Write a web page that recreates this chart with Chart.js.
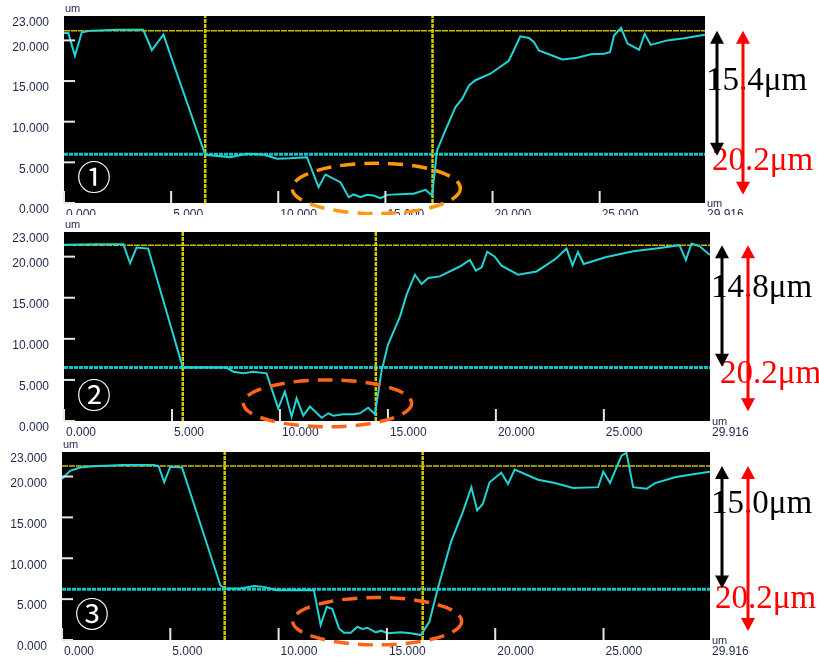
<!DOCTYPE html>
<html>
<head>
<meta charset="utf-8">
<script src="https://cdn.jsdelivr.net/npm/chart.js@4.4.1/dist/chart.umd.min.js"></script>
<style>
  body { margin: 0; background: #fff; width: 819px; height: 662px; overflow: hidden; position: relative; }
  canvas { position: absolute; left: 0; }
</style>
</head>
<body>
<canvas id="c1" width="819" height="215" style="top:0"></canvas>
<canvas id="c2" width="819" height="225" style="top:215px"></canvas>
<canvas id="c3" width="819" height="226" style="top:436px"></canvas>
<script>
// profile traces (um)
const x1 = [0, 0.2, 0.51, 0.83, 1.29, 2.5, 3.7, 4.1, 4.64, 6.59, 7.76, 8.54, 9.3, 9.94, 10.56, 11.34, 11.88, 12.2, 12.9, 13.29, 13.52, 13.83, 14.14, 14.45, 14.77, 15.08, 16.17, 16.32, 16.87, 17.18, 17.41, 17.73, 18.27, 18.58, 18.9, 19.2, 19.9, 20.76, 21.3, 21.7, 21.93, 22.16, 22.63, 23.26, 23.96, 24.58, 25.2, 25.48, 25.67, 26.0, 26.3, 26.84, 27.1, 27.38, 28.16, 28.94, 29.916];
const y1 = [20.9, 20.9, 18.1, 21.0, 21.2, 21.3, 21.3, 18.8, 20.7, 5.93, 5.63, 6.05, 5.97, 5.44, 5.5, 5.63, 1.94, 3.5, 2.56, 0.71, 1.05, 0.71, 1.0, 0.92, 0.59, 1.0, 1.13, 1.13, 1.62, 0.92, 6.46, 8.5, 11.8, 12.8, 14.45, 15.1, 15.9, 17.5, 20.5, 20.3, 19.8, 18.76, 18.3, 17.65, 17.86, 18.3, 18.35, 18.55, 20.6, 21.55, 19.6, 18.85, 20.8, 19.45, 20.0, 20.27, 20.7];

const x2 = [0, 1.5, 2.75, 3.06, 3.36, 3.9, 5.5, 7.53, 7.84, 8.3, 8.76, 9.38, 9.92, 10.23, 10.54, 10.77, 11.08, 11.39, 11.93, 12.24, 12.47, 12.93, 13.39, 13.7, 14.09, 14.4, 14.7, 15.0, 15.56, 15.87, 16.25, 16.56, 16.87, 17.4, 18.33, 18.8, 19.07, 19.34, 19.6, 19.95, 20.26, 21.03, 21.88, 22.35, 22.8, 23.27, 23.55, 23.8, 24.07, 25.12, 26.36, 27.6, 28.5, 28.8, 29.06, 29.44, 29.916];
const y2 = [21.46, 21.5, 21.5, 19.2, 21.1, 20.98, 6.5, 6.5, 6.0, 5.8, 6.0, 5.8, 1.55, 3.58, 0.53, 2.76, 0.65, 1.75, 0.4, 0.94, 0.65, 0.82, 0.82, 0.94, 1.62, 0.82, 6.0, 9.27, 12.7, 15.4, 17.8, 16.67, 17.4, 17.6, 18.8, 19.6, 18.3, 18.7, 20.6, 20.0, 18.9, 17.8, 18.2, 19.0, 19.8, 20.98, 18.94, 20.57, 19.1, 19.96, 20.65, 21.06, 21.4, 19.6, 21.6, 21.26, 20.2];

const x3 = [0, 0.37, 0.83, 1.45, 2.8, 4.23, 4.46, 4.72, 5.0, 5.54, 7.31, 7.51, 8.24, 8.86, 9.32, 9.94, 11.63, 11.94, 12.22, 12.48, 12.79, 13.02, 13.33, 13.64, 13.87, 14.1, 14.49, 14.72, 15.03, 15.65, 16.1, 16.57, 16.96, 17.35, 17.96, 18.5, 18.9, 19.17, 19.43, 19.74, 20.28, 20.59, 20.9, 21.98, 22.75, 23.6, 24.75, 24.99, 25.3, 25.83, 26.06, 26.37, 26.99, 27.38, 28.3, 29.2, 29.916];
const y3 = [19.7, 20.7, 21.1, 21.26, 21.4, 21.4, 21.26, 19.3, 21.2, 21.1, 6.7, 6.3, 6.3, 6.6, 6.5, 6.1, 6.1, 1.83, 4.06, 3.78, 1.42, 0.89, 0.89, 1.62, 1.34, 1.5, 0.94, 1.14, 0.82, 0.94, 0.82, 0.6, 2.23, 6.3, 12.0, 15.65, 18.7, 15.85, 16.67, 19.3, 20.45, 19.1, 20.85, 19.6, 19.2, 18.6, 18.7, 20.6, 19.2, 22.56, 22.9, 18.7, 18.5, 19.2, 19.9, 20.3, 20.6];

// cursors and reference levels
const topLevel = [21.2, 21.4, 21.3];
const stepLevel = [6.0, 6.5, 6.2];
const cursorA = [6.59, 5.5, 7.51];
const cursorB = [17.2, 14.44, 16.65];

// marked trench zone (ellipse extent, um)
const zoneX = [[10.65, 18.5], [8.3, 16.1], [10.65, 18.45]];
const zoneY = [[-1.3, 4.9], [-0.7, 5.0], [-0.6, 5.2]];

// measured depths
const stepDepth = [15.4, 14.8, 15.0];
const totalDepth = [20.2, 20.2, 20.2];
const marks = ['①', '②', '③'];

const xTicks = [0, 5, 10, 15, 20, 25, 29.916];
const yTicks = [0, 5, 10, 15, 20, 23];
const tickMarksX = [0, 5, 10, 15, 20, 25];
const tickMarksY = [0, 5, 10, 15, 20];
const xMax = 29.916, yMax = 23;

// layout of each panel inside its canvas
const frames = [
  { left: 64, right: 114, top: 16, axisH: 12 },
  { left: 64, right: 109, top: 17, axisH: 19 },
  { left: 62, right: 109, top: 16, axisH: 22 },
];
const textRow = [74, 65, 61];     // black label baseline below plot top
const redRow = [33, 38, 32];      // red label baseline above plot bottom
const redShift = [7, 10, 5];
const ellColor = ['rgb(255,150,20)', 'rgb(255,100,25)', 'rgb(255,100,25)'];

const labelColor = '#1d264d';
const labelFont = { family: 'Liberation Sans, Arial, sans-serif', size: 12 };

function arrow(ctx, x, ya, yb, color) {
  const h = 13, w = 7;
  ctx.save();
  ctx.strokeStyle = color;
  ctx.fillStyle = color;
  ctx.lineWidth = 3;
  ctx.beginPath();
  ctx.moveTo(x, ya + h - 2);
  ctx.lineTo(x, yb - h + 2);
  ctx.stroke();
  ctx.beginPath();
  ctx.moveTo(x, ya); ctx.lineTo(x - w, ya + h); ctx.lineTo(x + w, ya + h);
  ctx.fill();
  ctx.beginPath();
  ctx.moveTo(x, yb); ctx.lineTo(x - w, yb - h); ctx.lineTo(x + w, yb - h);
  ctx.fill();
  ctx.restore();
}

function noPad(s) {
  s.paddingTop = 0; s.paddingBottom = 0; s.paddingLeft = 0; s.paddingRight = 0;
}

function panelPlugin(i) {
  return {
    id: 'panel' + i,
    beforeDraw(chart) {
      const a = chart.chartArea, ctx = chart.ctx;
      ctx.save();
      ctx.fillStyle = '#000';
      ctx.fillRect(a.left, a.top, a.right - a.left, a.bottom - a.top);
      ctx.restore();
    },
    afterDraw(chart) {
      const a = chart.chartArea, ctx = chart.ctx;
      const xs = chart.scales.x, ys = chart.scales.y;
      ctx.save();
      // white tick marks inside the frame
      ctx.strokeStyle = '#e6e6e6';
      ctx.lineWidth = 2;
      tickMarksY.forEach(v => {
        const py = ys.getPixelForValue(v);
        ctx.beginPath(); ctx.moveTo(a.left, py); ctx.lineTo(a.left + 11, py); ctx.stroke();
      });
      tickMarksX.forEach(v => {
        const px = xs.getPixelForValue(v);
        ctx.beginPath(); ctx.moveTo(px, a.bottom); ctx.lineTo(px, a.bottom - 12); ctx.stroke();
      });
      // unit labels
      ctx.fillStyle = labelColor;
      ctx.font = '11px Liberation Sans, Arial, sans-serif';
      ctx.textAlign = 'left';
      ctx.textBaseline = 'middle';
      ctx.fillText('um', a.left + 1, a.top - 7);
      ctx.fillText('um', a.right + 2, a.bottom + 1);
      // circled panel number
      ctx.fillStyle = '#fff';
      ctx.font = '34px "Noto Sans CJK JP", sans-serif';
      ctx.textAlign = 'center';
      ctx.fillText(marks[i], a.left + 30, a.bottom - 26);
      // dashed ellipse round the trench
      const ex0 = xs.getPixelForValue(zoneX[i][0]), ex1 = xs.getPixelForValue(zoneX[i][1]);
      const ey0 = ys.getPixelForValue(zoneY[i][1]), ey1 = ys.getPixelForValue(zoneY[i][0]);
      ctx.strokeStyle = ellColor[i];
      ctx.lineWidth = 3.5;
      ctx.setLineDash([15, 9]);
      ctx.beginPath();
      ctx.ellipse((ex0 + ex1) / 2, (ey0 + ey1) / 2, (ex1 - ex0) / 2, (ey1 - ey0) / 2, 0, 0, Math.PI * 2);
      ctx.stroke();
      ctx.setLineDash([]);
      // depth labels
      ctx.textAlign = 'left';
      ctx.textBaseline = 'alphabetic';
      ctx.font = '33px "Liberation Serif", "Times New Roman", serif';
      ctx.fillStyle = '#000';
      ctx.fillText(stepDepth[i].toFixed(1) + 'μm', a.right + 1, a.top + textRow[i]);
      ctx.fillStyle = '#ff0000';
      ctx.fillText(totalDepth[i].toFixed(1) + 'μm', a.right + redShift[i], a.bottom - redRow[i]);
      ctx.restore();
      // depth arrows
      const yTop = ys.getPixelForValue(topLevel[i]);
      arrow(ctx, a.right + 12, yTop, ys.getPixelForValue(topLevel[i] - stepDepth[i]), '#000');
      arrow(ctx, a.right + 38, yTop, ys.getPixelForValue(topLevel[i] - totalDepth[i]), '#ff0000');
    }
  };
}

function makePanel(id, i, xs, ys) {
  const f = frames[i];
  const line = (pts, color, width, dash) => ({
    data: pts, borderColor: color, borderWidth: width, borderDash: dash,
    pointRadius: 0, tension: 0, fill: false
  });
  new Chart(document.getElementById(id), {
    type: 'line',
    data: {
      datasets: [
        line(xs.map((x, k) => ({ x: x, y: ys[k] })), 'rgb(35,212,212)', 2, []),
        line([{ x: cursorA[i], y: 0 }, { x: cursorA[i], y: yMax }], 'rgb(212,202,0)', 2.5, [4, 1]),
        line([{ x: cursorB[i], y: 0 }, { x: cursorB[i], y: yMax }], 'rgb(212,202,0)', 2.5, [4, 1]),
        line([{ x: 0, y: topLevel[i] }, { x: xMax, y: topLevel[i] }], 'rgb(200,190,0)', 1.5, [6, 1]),
        line([{ x: 0, y: stepLevel[i] }, { x: xMax, y: stepLevel[i] }], 'rgb(20,195,200)', 3, [4, 1]),
      ]
    },
    options: {
      responsive: false,
      animation: false,
      layout: { padding: { left: 0, right: f.right, top: f.top, bottom: 0 } },
      plugins: { legend: { display: false }, tooltip: { enabled: false } },
      scales: {
        x: {
          type: 'linear', min: 0, max: xMax,
          afterBuildTicks: s => { s.ticks = xTicks.map(v => ({ value: v })); },
          afterFit: s => { s.height = f.axisH; noPad(s); },
          grid: { display: false, drawTicks: false },
          border: { display: false },
          ticks: {
            align: 'start', padding: 4, labelOffset: 2, autoSkip: false, maxRotation: 0,
            color: labelColor, font: labelFont,
            callback: v => Number(v).toFixed(3)
          }
        },
        y: {
          type: 'linear', min: 0, max: yMax,
          afterBuildTicks: s => { s.ticks = yTicks.map(v => ({ value: v })); },
          afterFit: s => { s.width = f.left; noPad(s); },
          grid: { display: false, drawTicks: false },
          border: { display: false },
          ticks: {
            padding: 15, labelOffset: 7, color: labelColor, font: labelFont,
            callback: v => Number(v).toFixed(3)
          }
        }
      }
    },
    plugins: [panelPlugin(i)]
  });
}

makePanel('c1', 0, x1, y1);
makePanel('c2', 1, x2, y2);
makePanel('c3', 2, x3, y3);
</script>
</body>
</html>
